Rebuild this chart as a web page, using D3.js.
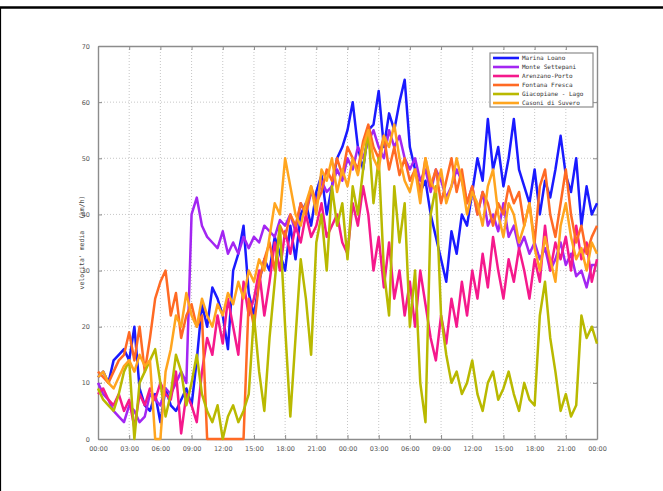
<!DOCTYPE html>
<html>
<head>
<meta charset="utf-8">
<script src="https://cdn.jsdelivr.net/npm/d3@7/dist/d3.min.js"></script>
<style>
  body { margin: 0; background: #fff; }
  svg { display: block; }
  .tick text { font-family: "DejaVu Sans", sans-serif; fill: #555; }
</style>
</head>
<body>
<div id="chart"></div>
<script>
// one value every 30 minutes, 48 hours
const seriesNames = ["Marina Loano", "Monte Settepani", "Arenzano-Porto", "Fontana Fresca", "Giacopiane - Lago", "Casoni di Suvero"];
const seriesColors = ["#1a1aff", "#a326f2", "#f5198c", "#ff6a24", "#b9b900", "#ffa51f"];

const marinaLoano = [
  11,12,10,14,15,16,14,20,9,6,
  5,8,3,9,6,5,7,9,6,14,
  24,20,27,25,22,16,30,33,38,26,
  22,28,32,30,36,33,30,38,32,40,
  42,38,44,47,40,45,50,52,55,60,
  52,48,55,56,62,52,58,55,60,64,
  52,48,44,46,40,36,32,28,37,33,
  40,38,44,50,46,57,48,52,45,50,
  57,48,45,42,48,40,46,43,48,54,
  47,44,50,38,45,40,42];
const monteSettepani = [
  10,8,7,5,4,3,6,5,3,4,
  8,7,6,9,8,10,12,10,40,43,
  38,36,35,34,37,33,35,33,36,34,
  36,35,38,37,36,39,38,40,37,42,
  40,44,42,46,44,45,48,46,50,48,
  52,50,53,55,52,50,55,52,54,50,
  48,50,46,48,44,48,46,43,45,48,
  46,42,45,40,44,38,40,37,42,36,
  38,34,36,33,35,32,34,30,32,35,
  31,33,29,30,27,31,31];
const arenzanoPorto = [
  8,9,7,6,8,5,7,2,8,6,
  9,7,10,8,7,12,1,8,6,3,
  12,18,15,22,17,25,20,15,28,22,
  25,30,22,28,35,30,37,33,38,35,
  40,36,38,42,36,38,40,35,33,42,
  38,45,40,30,36,27,35,25,30,22,
  28,20,30,24,18,14,22,17,25,20,
  28,22,30,25,33,27,36,30,25,32,
  28,34,30,25,32,28,38,30,35,32,
  36,30,38,32,35,28,32];
const fontanaFresca = [
  12,11,10,12,14,15,19,14,20,12,
  18,25,28,30,22,26,18,22,24,20,
  22,0,0,0,0,0,0,0,0,25,
  20,28,32,35,30,38,36,40,38,42,
  40,45,42,44,48,46,50,47,52,50,
  48,53,56,52,50,54,48,52,47,50,
  46,48,44,50,45,48,42,46,50,44,
  48,42,45,40,44,42,38,42,40,45,
  42,44,38,42,35,45,48,40,36,42,
  48,40,35,38,33,36,38];
const giacopianeLago = [
  9,7,6,5,8,12,14,0,10,12,
  14,16,10,4,8,15,12,6,10,15,
  8,5,3,6,0,4,6,3,5,8,
  22,12,5,18,28,38,20,4,18,32,
  25,15,35,40,30,45,38,42,32,45,
  40,48,55,42,50,30,22,45,35,42,
  20,30,10,3,40,45,22,15,10,12,
  8,10,14,8,5,10,12,7,9,12,
  8,5,10,7,6,22,28,18,12,5,
  8,4,6,22,18,20,17];
const casoniDiSuvero = [
  11,12,10,9,11,13,14,12,15,13,
  14,0,0,12,16,22,20,26,22,20,
  25,22,20,24,22,26,24,28,25,30,
  28,32,30,36,42,40,50,45,40,38,
  42,45,40,48,46,50,44,48,45,50,
  47,52,55,50,48,54,52,56,50,46,
  44,48,42,50,46,44,48,42,45,50,
  46,40,44,42,38,45,48,40,36,42,
  40,35,38,42,34,30,36,32,28,38,
  42,36,32,34,30,35,33];

const seriesValues = [marinaLoano, monteSettepani, arenzanoPorto, fontanaFresca, giacopianeLago, casoniDiSuvero];
const xTickLabels = ["00:00","03:00","06:00","09:00","12:00","15:00","18:00","21:00","00:00","03:00","06:00","09:00","12:00","15:00","18:00","21:00","00:00"];
const yTicks = [0, 10, 20, 30, 40, 50, 60, 70];
const stepHours = 0.5;

const W = 663, H = 491;
const plot = {left: 98, right: 597, top: 46, bottom: 439};

const svg = d3.select("#chart").append("svg")
    .attr("width", W)
    .attr("height", H);

svg.append("rect").attr("width", W).attr("height", H).attr("fill", "#fff");

// page frame (top + left edges only visible)
svg.append("line").attr("x1", 0).attr("x2", W).attr("y1", 7.5).attr("y2", 7.5)
    .attr("stroke", "#000").attr("stroke-width", 2.5);
svg.append("line").attr("x1", 0.5).attr("x2", 0.5).attr("y1", 7).attr("y2", H)
    .attr("stroke", "#000").attr("stroke-width", 1.2);

const x = d3.scaleLinear().domain([0, 48]).range([plot.left, plot.right]);
const y = d3.scaleLinear().domain([0, 70]).range([plot.bottom, plot.top]);

const hourTicks = d3.range(0, 49, 3);
const gridColor = "#b8b8b8";

// grid
const g = svg.append("g");
g.selectAll("line.vgrid").data(hourTicks.slice(1, -1)).join("line")
    .attr("class", "vgrid")
    .attr("x1", d => x(d)).attr("x2", d => x(d))
    .attr("y1", plot.top).attr("y2", plot.bottom)
    .attr("stroke", gridColor).attr("stroke-width", 0.8).attr("stroke-dasharray", "1,2");
g.selectAll("line.hgrid").data(yTicks.slice(1, -1)).join("line")
    .attr("class", "hgrid")
    .attr("x1", plot.left).attr("x2", plot.right)
    .attr("y1", d => y(d)).attr("y2", d => y(d))
    .attr("stroke", gridColor).attr("stroke-width", 0.8).attr("stroke-dasharray", "1,2");

// axes
const xAxis = d3.axisBottom(x).tickValues(hourTicks).tickFormat((d, i) => xTickLabels[i]).tickSize(-4).tickPadding(7).tickSizeOuter(0);
const xAxisTop = d3.axisTop(x).tickValues(hourTicks).tickFormat("").tickSize(-4).tickSizeOuter(0);
const yAxis = d3.axisLeft(y).tickValues(yTicks).tickSize(-4).tickPadding(8).tickSizeOuter(0);
const yAxisRight = d3.axisRight(y).tickValues(yTicks).tickFormat("").tickSize(-4).tickSizeOuter(0);

const axisColor = "#8c8c8c";
function styleAxis(sel) {
  sel.selectAll("path").attr("stroke", axisColor).attr("stroke-width", 1.4);
  sel.selectAll("line").attr("stroke", axisColor).attr("stroke-width", 1);
  sel.selectAll("text").style("font-size", "6.5px").attr("fill", "#555");
}

svg.append("g").attr("transform", `translate(0,${plot.bottom})`).call(xAxis).call(styleAxis);
svg.append("g").attr("transform", `translate(0,${plot.top})`).call(xAxisTop).call(styleAxis);
svg.append("g").attr("transform", `translate(${plot.left},0)`).call(yAxis).call(styleAxis);
svg.append("g").attr("transform", `translate(${plot.right},0)`).call(yAxisRight).call(styleAxis);

// y label
svg.append("text")
    .attr("transform", `translate(84,${(plot.top + plot.bottom) / 2}) rotate(-90)`)
    .attr("text-anchor", "middle")
    .style("font-family", "DejaVu Sans Mono, monospace")
    .style("font-size", "6.5px")
    .attr("fill", "#444")
    .attr("xml:space", "preserve")
    .text("velocita' media   (km/h)");

// series
const line = d3.line()
    .x((d, i) => x(i * stepHours))
    .y(d => y(d));

svg.append("g").selectAll("path.series").data(seriesValues).join("path")
    .attr("class", "series")
    .attr("d", d => line(d))
    .attr("fill", "none")
    .attr("stroke", (d, i) => seriesColors[i])
    .attr("stroke-width", 2.5)
    .attr("stroke-linejoin", "round");

// legend
const legend = svg.append("g").attr("transform", "translate(490,53)");
legend.append("rect")
    .attr("width", 103).attr("height", 54)
    .attr("fill", "#fff").attr("stroke", axisColor).attr("stroke-width", 1.2);
const rows = legend.selectAll("g.row").data(seriesNames).join("g")
    .attr("class", "row")
    .attr("transform", (d, i) => `translate(0,${5 + i * 9})`);
rows.append("line")
    .attr("x1", 3).attr("x2", 29)
    .attr("stroke", (d, i) => seriesColors[i]).attr("stroke-width", 2.6);
rows.append("text")
    .attr("x", 32).attr("dy", "0.35em")
    .style("font-family", "DejaVu Sans Mono, monospace")
    .style("font-size", "6px")
    .attr("fill", "#333")
    .text(d => d);
</script>
</body>
</html>
